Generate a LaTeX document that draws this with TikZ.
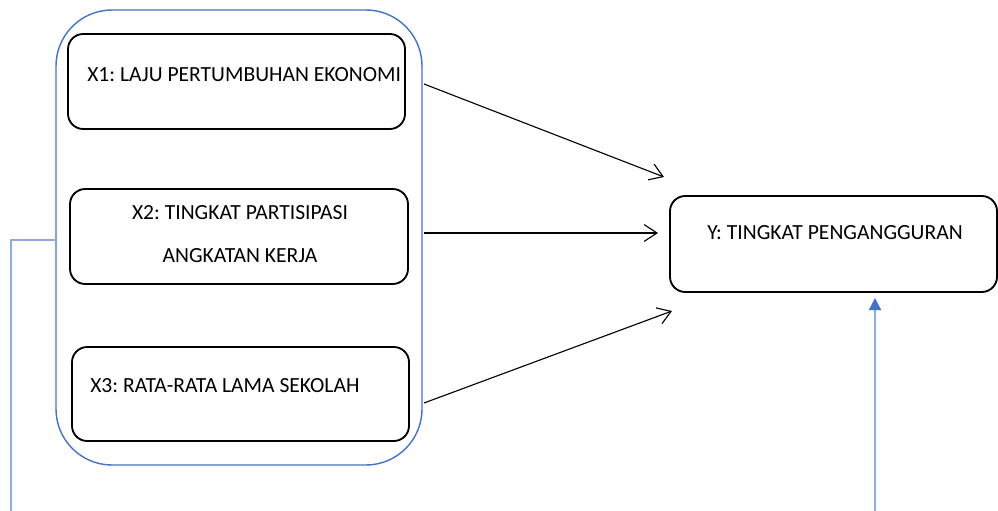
\documentclass[tikz,border=0pt]{standalone}
\usepackage{fontspec}
\setmainfont{Carlito}
\frenchspacing
\usetikzlibrary{arrows.meta}
\definecolor{wordblue}{HTML}{4472C4}
\definecolor{paleblue}{HTML}{8FAADC}
\tikzset{headarrow/.style = {-{Straight Barb[length=.32cm, width=.42cm]}},
         bluearrow/.style = {-{Triangle[length=.3cm, width=.3cm, color=wordblue]}},
         varbox/.style = {draw, line width=1.3pt, rounded corners=.38cm},
         vartext/.style = {inner sep=0pt, font=\fontsize{15.35}{18}\selectfont}}

\begin{document}
\begin{tikzpicture}[x=0.025cm, y=-0.025cm]
    \useasboundingbox (0,0) rectangle (998,511);

    \node (group) at (239,237.5) [draw=wordblue, line width=1pt,
                                  rounded corners=1.4cm,
                                  minimum width=366*0.025cm,
                                  minimum height=455*0.025cm] {};

    \node (x1) at (236.5,81.5) [varbox, minimum width=337*0.025cm,
                                minimum height=95*0.025cm] {};
    \node (x2) at (239,236.5) [varbox, minimum width=338*0.025cm,
                               minimum height=95*0.025cm] {};
    \node (x3) at (240.5,394) [varbox, minimum width=337*0.025cm,
                               minimum height=94*0.025cm] {};
    \node (y) at (833.5,244) [varbox, minimum width=327*0.025cm,
                              minimum height=96*0.025cm] {};

    \node (x1txt) at (87,75) [vartext, anchor=west] {X1: LAJU PERTUMBUHAN EKONOMI};
    \node (x2txt) at (240,234.5) [vartext, align=center,
                                  font=\fontsize{15.35}{30.6}\selectfont]
          {X2: TINGKAT PARTISIPASI\\ANGKATAN KERJA};
    \node (x3txt) at (90,386) [vartext, anchor=west] {X3: RATA-RATA LAMA SEKOLAH};
    \node (ytxt) at (835,233) [vartext] {Y: TINGKAT PENGANGGURAN};

    % arrows into Y
    \coordinate (x1out) at (424,84);
    \coordinate (x2out) at (424,233);
    \coordinate (x3out) at (424,403);
    \coordinate (y1in) at (664,177);
    \coordinate (y2in) at (658,233);
    \coordinate (y3in) at (672,311);
    \foreach \Source/\Target in {x1out/y1in, x2out/y2in, x3out/y3in}
        \draw[headarrow, line width=.8pt] (\Source) -- (\Target);

    % blue lines
    \coordinate (grpleft) at (56,240);
    \coordinate (leftend) at (11,511);
    \draw[paleblue, line width=.9pt] (grpleft) -| (leftend);

    \coordinate (ybottom) at (875,511);
    \coordinate (yarrow) at (875,298);
    \draw[bluearrow, line width=.9pt, paleblue] (ybottom) -- (yarrow);
\end{tikzpicture}
\end{document}
